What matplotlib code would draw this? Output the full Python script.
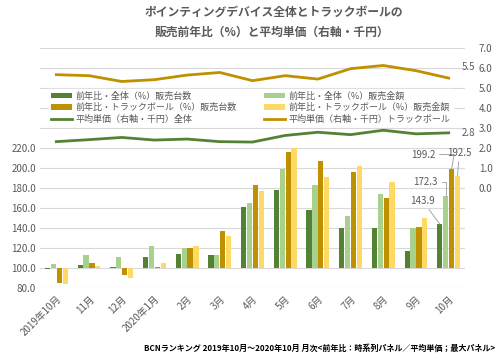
import numpy as np
import matplotlib
matplotlib.use("Agg")
from matplotlib import pyplot as plt

plt.rcParams['font.family'] = ['Noto Sans CJK JP', 'DejaVu Sans']

months = ["2019年10月", "11月", "12月", "2020年1月", "2月", "3月", "4月",
          "5月", "6月", "7月", "8月", "9月", "10月"]
# 前年比（%）
all_units = [99.4, 103.5, 101.3, 111.0, 114.5, 112.6, 161.3, 177.6, 158.0, 140.0, 140.0, 117.2, 143.9]
all_sales = [104.5, 113.5, 111.0, 122.0, 120.0, 113.0, 165.0, 199.0, 183.5, 151.7, 174.2, 139.8, 172.3]
tb_units = [85.0, 105.5, 92.5, 101.3, 120.0, 137.0, 183.5, 215.7, 207.4, 196.0, 170.0, 141.0, 199.2]
tb_sales = [84.0, 102.0, 90.0, 104.8, 122.0, 132.0, 177.0, 220.0, 191.0, 202.0, 186.0, 149.7, 192.5]
# 平均単価（千円）
price_all = [2.32, 2.42, 2.53, 2.40, 2.45, 2.32, 2.30, 2.63, 2.79, 2.67, 2.89, 2.71, 2.76]
price_tb = [5.67, 5.62, 5.33, 5.42, 5.65, 5.78, 5.37, 5.62, 5.45, 5.97, 6.13, 5.87, 5.50]

c_dg = "#548235"
c_lg = "#A9D18E"
c_gold = "#BF9000"
c_yel = "#FFD966"
gray = "#595959"

fig = plt.figure(figsize=(5, 3.57), dpi=100)
ax = fig.add_axes([0.08, 0.1933, 0.85, 0.672])
ax2 = ax.twinx()

x = np.arange(len(months))
w = 0.16
step = 0.18
series = [(all_units, c_dg, "前年比・全体（%）販売台数"),
          (all_sales, c_lg, "前年比・全体（%）販売金額"),
          (tb_units, c_gold, "前年比・トラックボール（%）販売台数"),
          (tb_sales, c_yel, "前年比・トラックボール（%）販売金額")]
bars = []
for i, (vals, col, lab) in enumerate(series):
    v = np.array(vals)
    b = ax.bar(x + (i - 1.5) * step, v - 100, bottom=100, width=w, color=col, label=lab, zorder=3)
    bars.append(b)

l1, = ax2.plot(x, price_all, color=c_dg, lw=2, label="平均単価（右軸・千円）全体")
l2, = ax2.plot(x, price_tb, color=c_gold, lw=2, label="平均単価（右軸・千円）トラックボール")

ax.set_xlim(-0.5, len(months) - 0.5)
ax.set_ylim(80, 320)
ax2.set_ylim(-5, 7)
ax.set_yticks(np.arange(80, 321, 20))
ax.set_yticklabels([f"{t:.1f}" if t <= 220 else "" for t in np.arange(80, 321, 20)])
ax2.set_yticks(np.arange(0, 8, 1))
ax2.set_yticklabels([f"{t:.1f}" for t in range(8)])
ax.grid(axis='y', color="#D9D9D9", lw=0.8, zorder=0)
ax.set_axisbelow(True)
for a in (ax, ax2):
    for s in a.spines.values():
        s.set_visible(False)
    a.tick_params(length=0, colors=gray, labelsize=7)
ax.set_xticks(x)
ax.set_xticklabels(months, rotation=45, ha='right', va='top', rotation_mode='anchor', fontsize=7, color=gray)
ax.tick_params(axis='x', pad=4)
ax.tick_params(axis='y', pad=3)
ax2.tick_params(axis='y', pad=10)

# data labels on last month
last = len(months) - 1
lab_kw = dict(fontsize=7, color=gray, ha='center', va='center')
arr = dict(arrowstyle='-', color="#A6A6A6", lw=0.7, shrinkA=1, shrinkB=0)
ax.annotate(f"{tb_units[last]:.1f}", xy=(last + 0.5 * step, tb_units[last]), xytext=(11.22, 213.5),
            arrowprops=dict(arr, connectionstyle="angle,angleA=0,angleB=80"), **lab_kw)
ax.annotate(f"{tb_sales[last]:.1f}", xy=(last + 1.5 * step, tb_sales[last]), xytext=(12.33, 215.5),
            arrowprops=arr, **lab_kw)
ax.annotate(f"{all_sales[last]:.1f}", xy=(last - 0.5 * step, all_sales[last]), xytext=(11.3, 186.3),
            arrowprops=dict(arr, connectionstyle="angle,angleA=0,angleB=90"), **lab_kw)
ax.annotate(f"{all_units[last]:.1f}", xy=(last - 1.5 * step, all_units[last]), xytext=(11.2, 167.3),
            arrowprops=arr, **lab_kw)
ax2.annotate(f"{price_tb[last]:.1f}", xy=(last, price_tb[last]), xytext=(13, 6), textcoords='offset pixels',
             fontsize=7, color=gray, ha='left', va='bottom')
ax2.annotate(f"{price_all[last]:.1f}", xy=(last, price_all[last]), xytext=(13, 0), textcoords='offset pixels',
             fontsize=7, color=gray, ha='left', va='center')

handles = [bars[0], bars[2], l1, bars[1], bars[3], l2]
leg = ax2.legend(handles=handles, ncol=2, loc='upper left', bbox_to_anchor=(0.02, 0.83),
                 fontsize=6.5, frameon=True, framealpha=1, edgecolor='white', facecolor='white',
                 handlelength=2.3, handleheight=0.55, handletextpad=0.35, columnspacing=3.1,
                 labelspacing=0.25, borderpad=0.3, borderaxespad=0)
for t in leg.get_texts():
    t.set_color(gray)

fig.text(0.548, 0.965, "ポインティングデバイス全体とトラックボールの", ha='center', va='center',
         fontsize=8.5, fontweight='bold', color=gray)
fig.text(0.545, 0.91, "販売前年比（%）と平均単価（右軸・千円）", ha='center', va='center',
         fontsize=8.5, fontweight='bold', color=gray)
fig.text(0.99, 0.025, "BCNランキング 2019年10月～2020年10月 月次<前年比：時系列パネル／平均単価；最大パネル>",
         ha='right', va='center', fontsize=5.8, fontweight='bold', color='black')

fig.savefig("out.png", dpi=100)
